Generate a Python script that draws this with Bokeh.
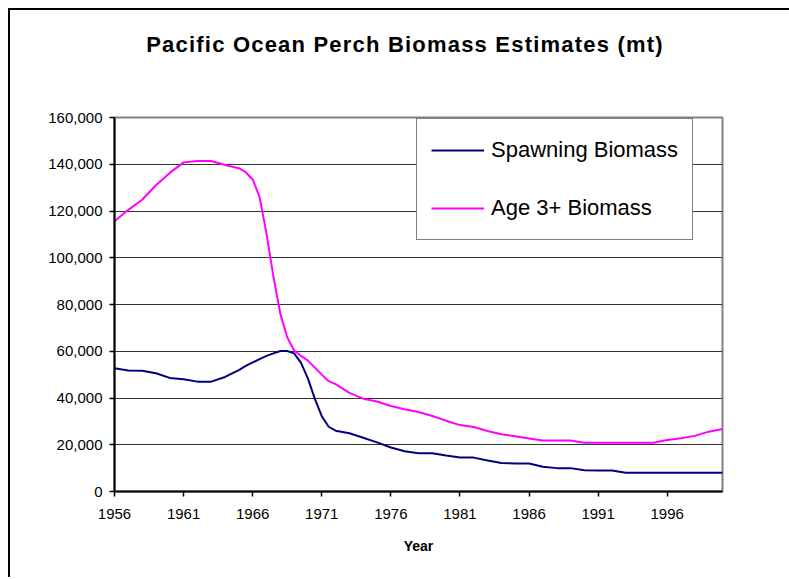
from bokeh.plotting import figure
from bokeh.models import Legend, LegendItem, FixedTicker, NumeralTickFormatter, Range1d, Div
from bokeh.layouts import column
from bokeh.embed import file_html
from bokeh.resources import INLINE

years = [1956, 1957, 1958, 1959, 1960, 1961, 1962, 1963, 1964, 1965, 1965.5,
         1966, 1966.5, 1967, 1967.5, 1968, 1968.5, 1969, 1969.5, 1970, 1970.5,
         1971, 1971.5, 1972, 1973, 1974, 1975, 1976, 1977, 1978, 1979, 1980,
         1981, 1982, 1983, 1984, 1985, 1986, 1987, 1988, 1989, 1990, 1991,
         1992, 1993, 1994, 1995, 1996, 1997, 1998, 1999, 2000]

spawning = [52700, 51800, 51700, 50600, 48600, 48000, 47000, 47000, 49000, 51900, 53700,
            55200, 56600, 58000, 59100, 60100, 60100, 59100, 55000, 48300, 39600,
            32200, 27700, 26000, 24900, 23000, 21000, 18800, 17200, 16400, 16400, 15400,
            14500, 14500, 13300, 12200, 12000, 12000, 10600, 10000, 10000, 9100, 9000,
            9000, 8000, 8000, 8000, 8000, 8000, 8000, 8000, 8000]

age3plus = [115600, 120500, 124800, 131000, 136300, 140800, 141400, 141400, 139700, 138300, 136600,
            133500, 126000, 110300, 92000, 76100, 66000, 60300, 58000, 56000, 53000,
            50000, 47200, 45900, 42200, 39700, 38500, 36600, 35200, 34000, 32300, 30300,
            28400, 27600, 25900, 24500, 23600, 22700, 21800, 21800, 21800, 20900, 20900,
            20900, 20900, 20900, 20900, 22000, 22800, 23800, 25600, 26700]

x_ticks = [1956, 1961, 1966, 1971, 1976, 1981, 1986, 1991, 1996]
y_ticks = [0, 20000, 40000, 60000, 80000, 100000, 120000, 140000, 160000]

TITLE = "Pacific Ocean Perch Biomass Estimates (mt)"
FONT = "Liberation Sans"

head = Div(text=TITLE, width=779, height=70, margin=0,
           styles={"font-family": FONT, "font-size": "22px", "font-weight": "bold",
                   "color": "black", "text-align": "center", "line-height": "70px",
                   "letter-spacing": "1.2px",
                   "padding-left": "11px", "box-sizing": "border-box",
                   "background-color": "white"})

p = figure(width=779, height=497, output_backend="svg", toolbar_location=None,
           x_range=Range1d(1956, 2000), y_range=Range1d(0, 160000),
           min_border_left=104, min_border_top=37, min_border_right=67,
           min_border_bottom=86)

p.outline_line_color = "#808080"
p.outline_line_width = 2
p.background_fill_color = "white"
p.border_fill_color = "white"

p.xgrid.visible = False
p.ygrid.ticker = FixedTicker(ticks=y_ticks)
p.ygrid.grid_line_color = "#333333"
p.ygrid.grid_line_width = 1

p.xaxis.ticker = FixedTicker(ticks=x_ticks)
p.yaxis.ticker = FixedTicker(ticks=y_ticks)
p.yaxis.formatter = NumeralTickFormatter(format="0,0")
for ax in (p.xaxis, p.yaxis):
    ax.axis_line_color = "black"
    ax.axis_line_width = 2
    ax.major_tick_line_color = "black"
    ax.major_tick_line_width = 1.5
    ax.major_tick_out = 5
    ax.major_tick_in = 0
    ax.minor_tick_line_color = None
    ax.major_label_text_font = FONT
    ax.major_label_text_font_size = "15px"
    ax.major_label_text_color = "black"
p.xaxis.major_label_standoff = 12
p.yaxis.major_label_standoff = 7
p.xaxis.axis_label = "Year"
p.xaxis.axis_label_text_font = FONT
p.xaxis.axis_label_text_font_size = "14px"
p.xaxis.axis_label_text_font_style = "bold"
p.xaxis.axis_label_text_color = "black"
p.xaxis.axis_label_standoff = 16

r1 = p.line(years, spawning, line_color="#000080", line_width=2)
r2 = p.line(years, age3plus, line_color="#FF00FF", line_width=2)

legend = Legend(items=[LegendItem(label="Spawning Biomass", renderers=[r1]),
                       LegendItem(label="Age 3+ Biomass", renderers=[r2])],
                location=(302, 251), orientation="vertical")
legend.label_text_font = FONT
legend.label_text_font_size = "22px"
legend.label_text_color = "black"
legend.glyph_width = 53
legend.glyph_height = 34
legend.label_standoff = 7
legend.spacing = 24
legend.padding = 14
legend.margin = 0
legend.border_line_color = "black"
legend.border_line_width = 1
legend.background_fill_color = "white"
legend.background_fill_alpha = 1
p.add_layout(legend, "center")

layout = column(head, p, spacing=0,
                styles={"border-top": "2px solid black", "border-left": "2px solid black",
                        "margin-left": "8px", "margin-top": "8px"})

open("out.html", "w").write(file_html(layout, INLINE))
